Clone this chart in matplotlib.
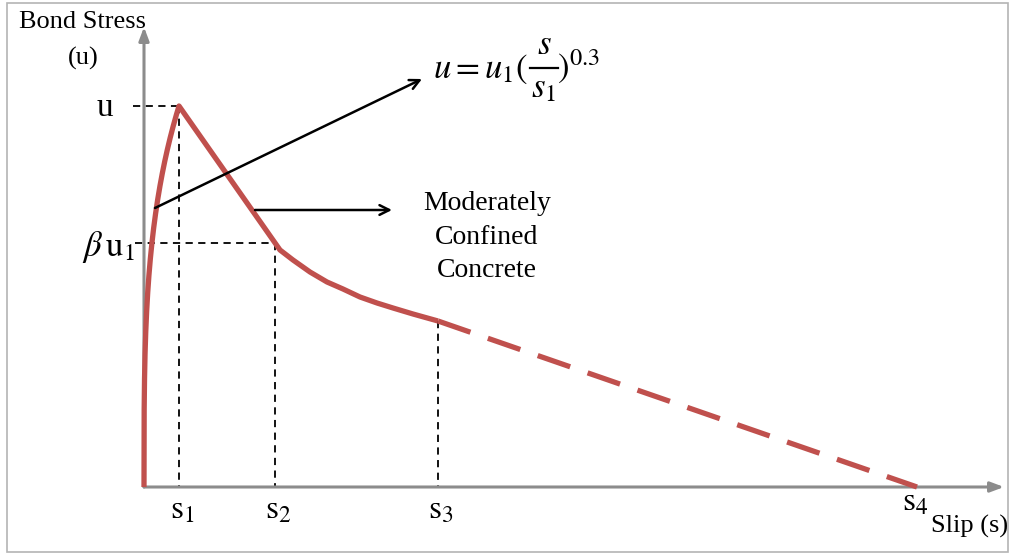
import numpy as np
import matplotlib
matplotlib.use('Agg')
import matplotlib.pyplot as plt
from matplotlib.patches import Rectangle

plt.rcParams['font.family'] = 'Liberation Serif'
plt.rcParams['mathtext.fontset'] = 'stix'

# characteristic slips and stresses of the bond-slip law
s1 = 0.35
s2 = 1.31
s3 = 2.94
s4 = 7.73
u1 = 3.81
beta_u1 = 2.44
u3 = 1.66

# softening branch between s2 and s3
slip_soft = [1.31, 1.36, 1.49, 1.66, 1.83, 1.99, 2.16, 2.33, 2.49, 2.69, 2.94]
stress_soft = [2.44, 2.37, 2.27, 2.15, 2.05, 1.98, 1.90, 1.84, 1.79, 1.73, 1.66]

slip_marks = [s1, s2, s3, s4]
slip_labels = [r'$\mathrm{s}_1$', r'$\mathrm{s}_2$', r'$\mathrm{s}_3$', r'$\mathrm{s}_4$']

red = '#C0504D'
grey = '#8C8C8C'

fig = plt.figure(figsize=(10.13, 5.54), dpi=100)
ax = fig.add_axes([0, 0, 1, 1])
ax.set_xlim(-1.44, 8.69)
ax.set_ylim(-0.67, 4.87)
ax.axis('off')

# frame
fig.patches.append(Rectangle((0.007, 0.004), 0.988, 0.99, transform=fig.transFigure,
                             fill=False, edgecolor='#B4B4B4', lw=1.2))

# axes with arrow heads
ax.annotate('', xy=(0, 4.6), xytext=(0, 0),
            arrowprops=dict(arrowstyle='-|>,head_length=0.8,head_width=0.3',
                            color=grey, lw=2.2, shrinkA=0, shrinkB=0))
ax.annotate('', xy=(8.60, 0), xytext=(0, 0),
            arrowprops=dict(arrowstyle='-|>,head_length=0.8,head_width=0.3',
                            color=grey, lw=2.2, shrinkA=0, shrinkB=0))

# guide lines
dash = dict(color='black', lw=1.3, ls=(0, (4, 3)))
ax.plot([-0.11, s1], [u1, u1], **dash)
ax.plot([s1, s1], [u1, 0], **dash)
ax.plot([-0.09, s2], [beta_u1, beta_u1], **dash)
ax.plot([s2, s2], [beta_u1, 0], **dash)
ax.plot([s3, s3], [u3, 0], **dash)

# ascending branch u = u1 (s/s1)^0.3, then linear drop and softening
s_asc = np.linspace(0, s1, 200)
u_asc = u1 * (s_asc / s1) ** 0.3
s_curve = np.concatenate([s_asc, slip_soft])
u_curve = np.concatenate([u_asc, stress_soft])
ax.plot(s_curve, u_curve, color=red, lw=3.8, solid_capstyle='butt',
        solid_joinstyle='round', zorder=3)
ax.plot([s3, s4], [u3, 0], color=red, lw=3.8, ls=(0, (6.5, 3.5)), zorder=3)

# pointers
ax.annotate('', xy=(2.78, 4.08), xytext=(0.11, 2.79),
            arrowprops=dict(arrowstyle='->,head_length=0.7,head_width=0.35',
                            color='black', lw=1.8, shrinkA=0, shrinkB=0))
ax.annotate('', xy=(2.48, 2.77), xytext=(1.11, 2.77),
            arrowprops=dict(arrowstyle='->,head_length=0.7,head_width=0.35',
                            color='black', lw=1.8, shrinkA=0, shrinkB=0))

# equation, built in pieces so the fraction keeps full size
eq_size = 25
ax.text(3.84, 4.09, r'$u = u_1($', fontsize=eq_size, ha='right', va='baseline')
ax.text(4.00, 4.33, r'$s$', fontsize=eq_size, ha='center', va='baseline')
ax.plot([3.86, 4.14], [4.19, 4.19], color='black', lw=1.6)
ax.text(4.00, 3.90, r'$s_1$', fontsize=eq_size, ha='center', va='baseline')
ax.text(4.13, 4.09, r'$)^{0.3}$', fontsize=eq_size, ha='left', va='baseline')

# labels
ax.text(-0.62, 4.65, 'Bond Stress', fontsize=19, ha='center', va='center')
ax.text(-0.61, 4.29, '(u)', fontsize=19, ha='center', va='center')
ax.text(-0.39, 3.79, 'u', fontsize=24, ha='center', va='center')
ax.text(-0.36, 2.40, r'$\beta\,\mathrm{u}_1$', fontsize=25, ha='center', va='center')
ax.text(3.43, 2.50, 'Moderately\nConfined\nConcrete', fontsize=20, ha='center',
        va='center', linespacing=1.45)

for i, (sv, lab) in enumerate(zip(slip_marks, slip_labels)):
    if i == 3:
        ax.text(sv - 0.02, -0.15, lab, fontsize=24, ha='center', va='center')
    else:
        ax.text(sv + 0.03, -0.23, lab, fontsize=24, ha='center', va='center')
ax.text(8.26, -0.39, 'Slip (s)', fontsize=19, ha='center', va='center')

fig.savefig('out.png', dpi=100)
